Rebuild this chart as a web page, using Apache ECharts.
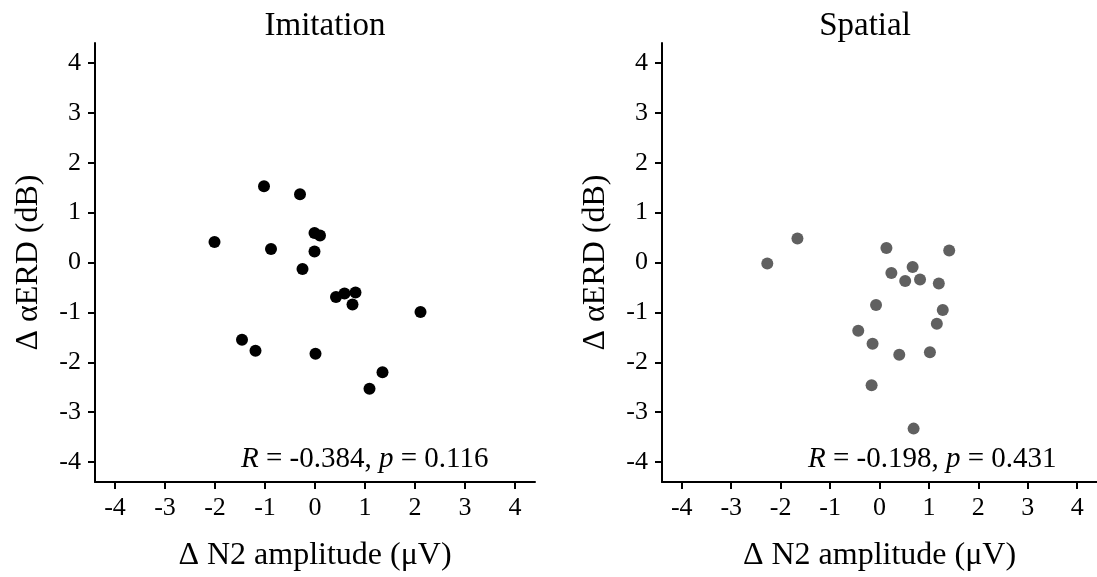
<!DOCTYPE html>
<html>
<head>
<meta charset="utf-8">
<script src="https://cdn.jsdelivr.net/npm/echarts@6/dist/echarts.min.js"></script>
<style>
html,body{margin:0;padding:0;background:#fff;}
#chart{width:1097px;height:577px;}
</style>
</head>
<body>
<div id="chart"></div>
<script>
// ---- data ----
const panelTitles = ['Imitation', 'Spatial'];
const imitationX = [-1.02, -0.30, -2.01, -0.88, -0.01, 0.10, -0.01, -0.25, 0.42, 0.59, 0.81, 0.75, 2.11, -1.46, -1.19, 0.01, 1.35, 1.09];
const imitationY = [1.53, 1.37, 0.41, 0.27, 0.59, 0.54, 0.22, -0.13, -0.69, -0.62, -0.60, -0.84, -0.99, -1.55, -1.77, -1.83, -2.20, -2.53];
const spatialX = [-2.27, -1.66, 0.14, 1.41, 0.67, 0.24, 0.52, 0.82, 1.20, -0.07, 1.28, 1.16, -0.43, -0.14, 0.40, 1.02, -0.16, 0.69];
const spatialY = [-0.02, 0.48, 0.29, 0.24, -0.09, -0.21, -0.37, -0.34, -0.42, -0.85, -0.95, -1.23, -1.37, -1.63, -1.85, -1.80, -2.46, -3.33];
const statsR = ['-0.384', '-0.198'];
const statsP = ['0.116', '0.431'];
const tickValues = [-4, -3, -2, -1, 0, 1, 2, 3, 4];
const xName = 'Δ N2 amplitude (μV)';
const yName = 'Δ αERD (dB)';

const FONT = '"Liberation Serif", "Times New Roman", serif';
const pair = (xs, ys) => xs.map((x, i) => [x, ys[i]]);

const gridLefts = [95, 662];
function makeAxis(idx, isX) {
  return {
    type: 'value',
    gridIndex: idx,
    min: -4.4,
    max: 4.4,
    name: isX ? xName : yName,
    nameLocation: 'middle',
    nameGap: isX ? 58 : 50,
    nameTextStyle: { fontFamily: FONT, fontSize: 32, color: '#000' },
    axisLine: { show: true, onZero: false, lineStyle: { color: '#000', width: 2 } },
    axisTick: { show: true, inside: false, length: 7, lineStyle: { color: '#000', width: 2 }, customValues: tickValues },
    axisLabel: { show: true, margin: isX ? 13 : 14, fontFamily: FONT, fontSize: 26, color: '#000', customValues: tickValues },
    splitLine: { show: false }
  };
}

const chart = echarts.init(document.getElementById('chart'), null, { renderer: 'canvas' });
const statStyle = { fontFamily: FONT, fontSize: 29, fontWeight: 'normal', color: '#000', rich: { i: { fontFamily: FONT, fontSize: 29, fontStyle: 'italic', color: '#000' } } };
chart.setOption({
  animation: false,
  backgroundColor: '#fff',
  grid: gridLefts.map(l => ({ left: l, top: 43, width: 440, height: 440 })),
  xAxis: [makeAxis(0, true), makeAxis(1, true)],
  yAxis: [makeAxis(0, false), makeAxis(1, false)],
  title: [
    { text: panelTitles[0], left: 320, top: 5, textAlign: 'center', textStyle: { fontFamily: FONT, fontSize: 33, fontWeight: 'normal', color: '#000' } },
    { text: panelTitles[1], left: 860, top: 5, textAlign: 'center', textStyle: { fontFamily: FONT, fontSize: 33, fontWeight: 'normal', color: '#000' } },
    { text: '{i|R} = ' + statsR[0] + ', {i|p} = ' + statsP[0], left: 236, top: 440, textStyle: statStyle },
    { text: '{i|R} = ' + statsR[1] + ', {i|p} = ' + statsP[1], left: 803, top: 440, textStyle: statStyle }
  ],
  series: [
    { type: 'scatter', xAxisIndex: 0, yAxisIndex: 0, data: pair(imitationX, imitationY), symbolSize: 12, itemStyle: { color: '#000', opacity: 1 } },
    { type: 'scatter', xAxisIndex: 1, yAxisIndex: 1, data: pair(spatialX, spatialY), symbolSize: 12, itemStyle: { color: '#606060', opacity: 1 } }
  ]
});
</script>
</body>
</html>
